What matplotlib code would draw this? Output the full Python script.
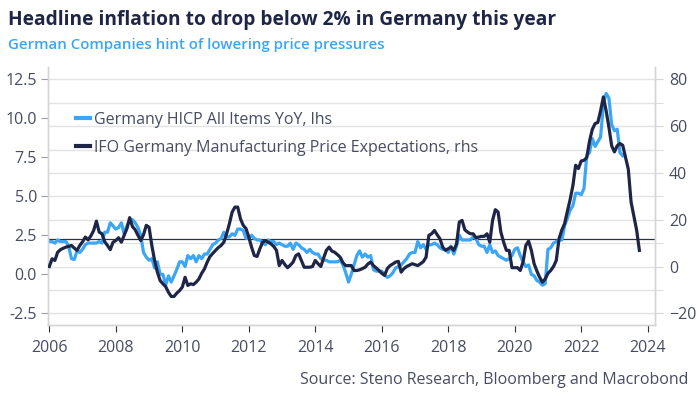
import matplotlib
matplotlib.use("Agg")
import matplotlib.pyplot as plt
import numpy as np
from matplotlib.ticker import MultipleLocator

# Germany HICP All Items YoY (%), monthly Jan 2006 - Apr 2023 (lhs)
hicp = [
    2.1, 2.1, 2.0, 2.2, 2.1, 2.1, 2.1, 1.8, 1.0, 0.95, 1.5, 1.4,
    1.6, 1.9, 2.0, 2.0, 2.0, 2.0, 2.1, 2.0, 2.7, 2.7, 3.3, 3.1,
    2.9, 3.0, 3.3, 2.6, 3.1, 3.4, 3.5, 3.3, 3.0, 2.5, 1.4, 1.1,
    0.9, 1.0, 0.4, 0.8, 0.0, 0.0, -0.7, -0.1, -0.5, -0.1, 0.3, 0.8,
    0.8, 0.5, 1.2, 1.0, 1.2, 0.8, 1.2, 1.0, 1.3, 1.3, 1.6, 1.9,
    2.0, 2.2, 2.3, 2.7, 2.4, 2.4, 2.6, 2.5, 2.9, 2.9, 2.8, 2.3,
    2.3, 2.5, 2.3, 2.2, 2.2, 2.0, 1.9, 2.2, 2.1, 2.1, 1.9, 2.0,
    1.9, 1.8, 1.8, 2.0, 1.6, 2.0, 1.9, 1.7, 1.6, 1.4, 1.6, 1.4,
    1.3, 1.3, 1.0, 0.9, 0.9, 0.8, 0.8, 0.8, 0.8, 0.9, 0.6, 0.1,
    -0.5, 0.0, 0.6, 1.2, 1.5, 1.1, 1.3, 1.1, 1.2, 0.3, 0.2, 0.2,
    0.2, 0.0, -0.2, -0.1, 0.1, 0.4, 0.5, 0.6, 0.8, 1.0, 1.3, 1.4,
    1.4, 2.1, 1.7, 1.9, 1.6, 1.9, 1.9, 2.0, 1.9, 1.7, 1.6, 1.6,
    1.4, 1.8, 1.3, 1.8, 2.5, 2.2, 2.2, 2.2, 2.2, 2.4, 2.3, 1.9,
    1.8, 1.8, 1.4, 1.9, 1.4, 1.5, 1.2, 1.1, 1.0, 0.9, 1.0, 1.2,
    1.6, 1.7, 1.2, 0.8, 0.5, 0.6, 0.0, -0.1, -0.4, -0.5, -0.7, -0.6,
    1.6, 1.7, 2.0, 2.1, 2.2, 2.2, 3.1, 3.6, 4.1, 4.4, 5.2, 5.2,
    5.1, 5.5, 7.6, 7.8, 8.7, 8.2, 8.5, 8.8, 10.9, 11.6, 11.3, 9.6,
    9.2, 9.3, 7.8, 7.6,
]

# IFO Germany Manufacturing Price Expectations (balance), monthly Jan 2006 - Oct 2023 (rhs)
ifo = [
    0.0, 3.3, 2.6, 6.1, 7.2, 7.8, 8.3, 8.6, 9.0, 7.9, 6.9, 9.0,
    10.6, 12.6, 11.4, 13.1, 15.4, 19.4, 14.7, 14.0, 10.6, 9.0, 7.2, 10.4,
    11.1, 12.3, 10.4, 13.3, 16.2, 20.9, 17.1, 15.7, 13.3, 11.1, 13.6, 17.6,
    16.8, 9.0, 2.6, -2.4, -6.0, -7.4, -8.6, -11.0, -12.8, -12.8, -11.4, -10.3,
    -8.8, -4.6, -8.1, -7.4, -7.7, -6.7, -5.3, -2.9, -1.0, 1.9, 4.3, 5.6,
    6.9, 8.1, 9.0, 10.4, 14.0, 18.3, 23.3, 25.4, 25.4, 20.4, 17.6, 16.2,
    12.6, 8.3, 4.7, 4.3, 7.6, 10.4, 11.1, 10.4, 9.7, 8.6, 6.9, 0.4,
    2.6, 0.9, -0.5, 0.6, 1.9, 4.7, 5.4, 2.6, -0.3, -0.3, -0.3, 0.0,
    2.6, 1.2, 0.0, 3.6, 6.9, 8.3, 6.6, 6.1, 5.1, 4.0, 1.6, 0.4,
    0.4, 0.4, -1.7, -1.7, -1.4, -0.9, -0.3, 1.1, 1.9, 0.4, -0.6, -1.7,
    -2.9, -3.8, -0.9, 0.4, 1.1, 1.9, 2.2, -2.4, -0.9, 0.0, 0.6, 1.2,
    0.8, 0.4, 1.2, 2.1, 4.0, 13.3, 14.0, 15.4, 13.6, 11.9, 8.3, 6.9,
    7.6, 8.3, 6.9, 9.7, 19.0, 19.7, 15.7, 14.7, 14.0, 14.0, 12.3, 12.6,
    12.9, 12.9, 14.0, 10.4, 19.7, 24.3, 23.3, 14.7, 10.4, 6.9, 6.9, -0.5,
    -0.5, -0.5, -1.7, 1.9, 9.0, 10.9, 6.9, 1.2, -1.9, -4.6, -6.7, -5.3,
    -2.9, -1.7, 0.0, 2.6, 11.9, 15.6, 18.3, 23.6, 28.6, 34.6, 43.3, 41.9,
    45.1, 45.4, 46.6, 53.6, 58.6, 61.1, 61.6, 66.6, 72.5, 66.6, 59.6, 51.6,
    49.0, 51.6, 52.6, 51.8, 46.8, 41.6, 27.6, 21.6, 15.6, 6.9,
]

start_year = 2006
ref_level = 2.25  # horizontal reference line (lhs)
left_ticks = [-2.5, 0.0, 2.5, 5.0, 7.5, 10.0, 12.5]
right_ticks = [-20, 0, 20, 40, 60, 80]
x_ticks = [2006, 2008, 2010, 2012, 2014, 2016, 2018, 2020, 2022, 2024]

labels = ["Germany HICP All Items YoY, lhs",
          "IFO Germany Manufacturing Price Expectations, rhs"]
title = "Headline inflation to drop below 2% in Germany this year"
subtitle = "German Companies hint of lowering price pressures"
source = "Source: Steno Research, Bloomberg and Macrobond"

BLUE = "#3AA6F5"
NAVY = "#1E2546"
TXT = "#474C63"
GRID = "#E3E3E3"
SPINE = "#D5D5D5"

plt.rcParams['font.family'] = ['Open Sans', 'DejaVu Sans']

x_hicp = start_year + np.arange(len(hicp)) / 12.0
x_ifo = start_year + np.arange(len(ifo)) / 12.0

fig = plt.figure(figsize=(7, 4), dpi=100)
ax = fig.add_axes([48/700, 1-325/400, (655-48)/700, (325-67)/400])
ax2 = ax.twinx()

ax.set_xlim(2005.96, 2024.22)
ax.set_ylim(-3.25, 13.29)
ax2.set_ylim(-25.0, 85.3)

# grid from right axis every 10
for v in np.arange(-20, 90, 10):
    ax.axhline((v + 3.333) * 0.15, color=GRID, lw=1.0, zorder=0)

l1, = ax.plot(x_hicp, hicp, color=BLUE, lw=2.3, zorder=3)
ax.axhline(ref_level, color="#2B3045", lw=0.9, zorder=2)
l2, = ax2.plot(x_ifo, ifo, color=NAVY, lw=2.3, zorder=4)

ax.set_zorder(ax2.get_zorder() - 1)
ax2.patch.set_visible(False)

ax.set_yticks(left_ticks)
ax.set_yticklabels([f"{t:.1f}" for t in left_ticks])
ax2.set_yticks(right_ticks)
ax2.yaxis.set_minor_locator(MultipleLocator(10))
ax.set_xticks(x_ticks)

for a in (ax, ax2):
    for s in a.spines.values():
        s.set_color(SPINE)
        s.set_linewidth(1.0)
    a.spines['top'].set_visible(False)

ax.tick_params(axis='y', colors=TXT, labelsize=11.5, length=5, color="#9A9AAA", pad=3)
ax2.tick_params(axis='y', which='major', colors=TXT, labelsize=11.5, length=6, color=SPINE, pad=4)
ax2.tick_params(axis='y', which='minor', length=6, color=SPINE)
ax.tick_params(axis='x', colors=TXT, labelsize=11.5, length=5, color="#333333", pad=6)

leg = ax.legend([l1, l2], labels, loc='upper left', bbox_to_anchor=(0.035, 0.85),
                frameon=False, fontsize=11.5, handlelength=0.9, handletextpad=0.25,
                labelspacing=0.75, borderaxespad=0)
for t in leg.get_texts():
    t.set_color(TXT)
for h in leg.legend_handles:
    h.set_linewidth(3)

fig.text(8/700, 1-20/400, title, fontsize=13.8, fontweight='bold', color="#1E2546",
         ha='left', va='center')
fig.text(8/700, 1-45/400, subtitle, fontsize=10.8, fontweight='semibold', color=BLUE,
         ha='left', va='center')
fig.text(688/700, 1-380/400, source, fontsize=11.5, color=TXT, ha='right', va='center')

fig.savefig("out.png", dpi=100)
